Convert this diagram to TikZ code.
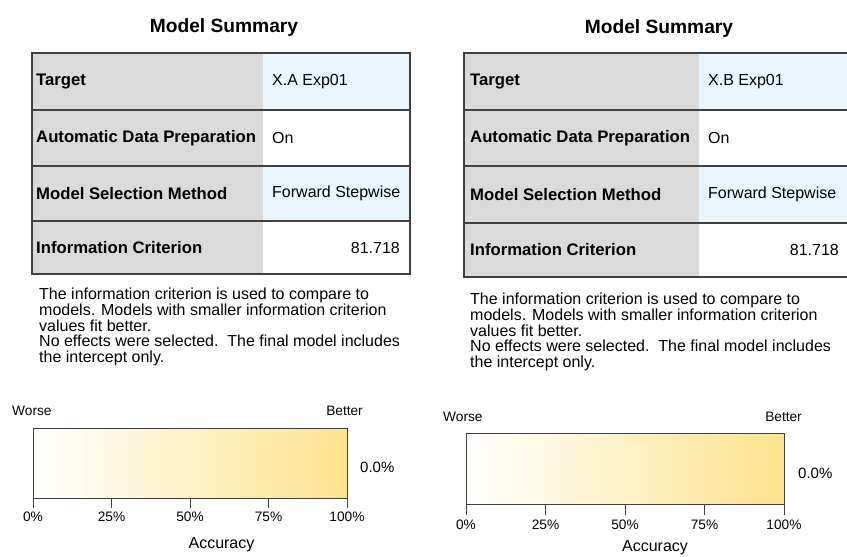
\documentclass[tikz,border=0pt]{standalone}
\usepackage{fontspec}
\setmainfont{Liberation Sans}
\usetikzlibrary{calc}
\definecolor{labgray}{HTML}{DADADA}
\definecolor{valblue}{HTML}{EBF5FE}
\definecolor{accgold}{HTML}{FCE38D}
\definecolor{rulegray}{HTML}{404040}

\begin{document}
\begin{tikzpicture}[x=1pt, y=-1pt,
    ttl/.style={font=\fontsize{19.2}{22}\selectfont\bfseries, inner sep=0},
    lab/.style={font=\fontsize{16.7}{19}\selectfont\bfseries, anchor=west, inner sep=0},
    val/.style={font=\fontsize{16}{19}\selectfont, anchor=west, inner sep=0},
    note/.style={font=\fontsize{16}{15.7}\selectfont, align=left, anchor=north west, inner sep=0},
    tick/.style={font=\fontsize{13.7}{16}\selectfont, inner sep=0},
    frame/.style={draw=rulegray, line width=1.3pt},
    barframe/.style={draw=rulegray, line width=1pt}]
    \useasboundingbox (0,0) rectangle (847,557);
    \begin{scope}
        \node[ttl] (titleA) at (224,28) {Model Summary};
        \fill[labgray] (32,53) rectangle (263,274);
        \fill[valblue] (263,53) rectangle (410,110);
        \fill[valblue] (263,166) rectangle (410,221);
        \draw[frame] (32,53) rectangle (410,274);
        \foreach \y in {110,166,221} \draw[frame] (32,\y) -- (410,\y);
        \node[lab] (tgtA) at (36,81.5) {Target};
        \node[lab] (adpA) at (36,138) {Automatic Data Preparation};
        \node[lab] (msmA) at (36,193.5) {Model Selection Method};
        \node[lab] (icA) at (36,247.5) {Information Criterion};
        \node[val] (tgtvA) at (272,81.5) {X.A Exp01};
        \node[val] (adpvA) at (272,138) {On};
        \node[val] (msmvA) at (272,193.5) {Forward Stepwise};
        \node[val, anchor=east] (icvA) at (400,247.5) {81.718};
        \node[note] (noteA) at (39,288) {The information criterion is used to compare to\\models. Models with smaller information criterion\\values fit better.\\No effects were selected.\ \ The final model includes\\the intercept only.};
        \shade[left color=white, right color=accgold] (33,428) rectangle (347,498);
        \draw[barframe] (33,428) rectangle (347,498);
        \foreach \i/\t in {0/0,1/25,2/50,3/75,4/100} {
            \draw[barframe] (33+78.5*\i,498) -- (33+78.5*\i,508);
            \node[tick] (pctA\i) at (33+78.5*\i,517) {\t\%};
        }
        \node[tick, anchor=west] (worseA) at (12,411) {Worse};
        \node[tick, anchor=east] (betterA) at (363,411) {Better};
        \node[tick, anchor=west, font=\fontsize{15}{18}\selectfont] (accvA) at (360,467) {0.0\%};
        \node[val, anchor=center] (accA) at (221.5,545) {Accuracy};
    \end{scope}
    \begin{scope}
        \node[ttl] (titleB) at (659,29) {Model Summary};
        \fill[labgray] (464,53) rectangle (699,277);
        \fill[valblue] (699,53) rectangle (852,110);
        \fill[valblue] (699,166) rectangle (852,223);
        \draw[frame] (464,53) rectangle (852,277);
        \foreach \y in {110,166,223} \draw[frame] (464,\y) -- (852,\y);
        \node[lab] (tgtB) at (470,81.5) {Target};
        \node[lab] (adpB) at (470,138) {Automatic Data Preparation};
        \node[lab] (msmB) at (470,194.5) {Model Selection Method};
        \node[lab] (icB) at (470,250) {Information Criterion};
        \node[val] (tgtvB) at (708,81.5) {X.B Exp01};
        \node[val] (adpvB) at (708,138) {On};
        \node[val] (msmvB) at (708,194.5) {Forward Stepwise};
        \node[val, anchor=east] (icvB) at (839,250) {81.718};
        \node[note] (noteB) at (470,293) {The information criterion is used to compare to\\models. Models with smaller information criterion\\values fit better.\\No effects were selected.\ \ The final model includes\\the intercept only.};
        \shade[left color=white, right color=accgold] (466,433) rectangle (784,504);
        \draw[barframe] (466,433) rectangle (784,504);
        \foreach \i/\t in {0/0,1/25,2/50,3/75,4/100} {
            \draw[barframe] (466+79.5*\i,504) -- (466+79.5*\i,515);
            \node[tick] (pctB\i) at (466+79.5*\i,525) {\t\%};
        }
        \node[tick, anchor=west] (worseB) at (443,417) {Worse};
        \node[tick, anchor=east] (betterB) at (802,417) {Better};
        \node[tick, anchor=west, font=\fontsize{15}{18}\selectfont] (accvB) at (798,473) {0.0\%};
        \node[val, anchor=center] (accB) at (655,548) {Accuracy};
    \end{scope}
\end{tikzpicture}
\end{document}
